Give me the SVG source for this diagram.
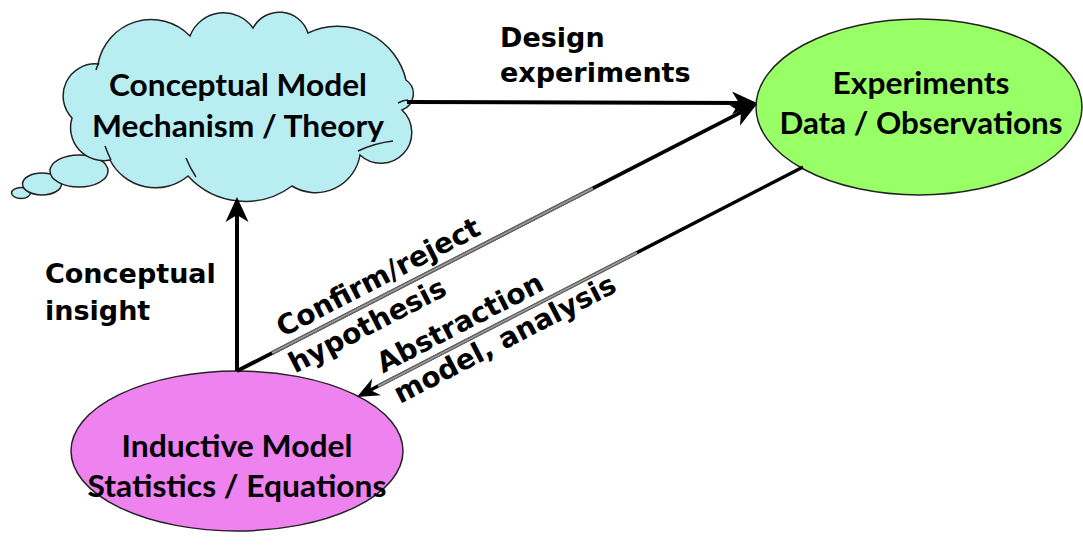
<svg xmlns="http://www.w3.org/2000/svg" width="1083" height="554" viewBox="0 0 1083 554">
  <style>
    .node-text { font-family: Lato, "Open Sans", "Liberation Sans", sans-serif; font-weight: bold; font-size: 30px; fill: #000; text-anchor: middle; }
    .label { font-family: "DejaVu Sans", Verdana, sans-serif; font-weight: bold; font-size: 27px; fill: #000; }
    .label-slant { font-size: 28px; }
    .outline { stroke: #222; stroke-width: 1.5; }
    .edge { fill: none; stroke: #000; stroke-linecap: butt; }
    .shade { fill: none; stroke: #666; }
    .shade-core { fill: none; stroke: #a8a8a8; stroke-width: 1.2; }
  </style>
  <defs>
    <marker id="head" markerUnits="userSpaceOnUse" viewBox="-28 -14 30 28" markerWidth="30" markerHeight="28" refX="-10" refY="0" orient="auto">
      <path d="M0,0 L-25,-11.5 L-18,0 L-25,11.5 Z" fill="#000"/>
    </marker>
    <marker id="head-small" markerUnits="userSpaceOnUse" viewBox="-28 -14 30 28" markerWidth="30" markerHeight="28" refX="-8" refY="0" orient="auto">
      <path d="M0,0 L-22,-9.5 L-15,0 L-22,9.5 Z" fill="#000"/>
    </marker>
  </defs>

  <rect width="1083" height="554" fill="#fff"/>

  <!-- thought cloud -->
  <g id="conceptual-model">
    <ellipse cx="21" cy="193" rx="9.5" ry="5.5" fill="#b8eef2" class="outline"/>
    <ellipse cx="42" cy="184" rx="19.5" ry="11" fill="#b8eef2" class="outline"/>
    <ellipse cx="79" cy="171" rx="29" ry="16" fill="#b8eef2" class="outline"/>
    <path fill="#b8eef2" class="outline" d="M72,118
      A32,32 0 0 1 98,64
      A54,54 0 0 1 190,36
      A36,36 0 0 1 253,28
      A30,30 0 0 1 308,33
      A70,70 0 0 1 406,80
      A17,17 0 0 1 402,110
      A30,30 0 0 1 360,155
      A45,45 0 0 1 292,186
      A78,78 0 0 1 188,176
      A51,51 0 0 1 110,160
      A33,33 0 0 1 72,118 Z"/>
    <g fill="none" class="outline">
      <path d="M105,146 Q108,154 111,160"/>
      <path d="M186,158 Q190,168 196,177"/>
      <path d="M358,151 Q375,143 393,141"/>
      <path d="M398,103 Q403,100 408,100"/>
      <path d="M96,70 Q97,66 99,63"/>
    </g>
    <text class="node-text" x="238" y="96" textLength="258" lengthAdjust="spacingAndGlyphs">Conceptual Model</text>
    <text class="node-text" x="238" y="137" textLength="292" lengthAdjust="spacingAndGlyphs">Mechanism / Theory</text>
  </g>

  <g id="experiments">
    <ellipse cx="919" cy="107" rx="163" ry="88" fill="#99ff66" class="outline"/>
    <text class="node-text" x="921" y="94" textLength="177" lengthAdjust="spacingAndGlyphs">Experiments</text>
    <text class="node-text" x="921" y="134" textLength="283" lengthAdjust="spacingAndGlyphs">Data / Observations</text>
  </g>

  <g id="inductive-model">
    <ellipse cx="237" cy="451" rx="166" ry="80" fill="#ee82ee" class="outline"/>
    <text class="node-text" x="237" y="457" textLength="231" lengthAdjust="spacingAndGlyphs">Inductive Model</text>
    <text class="node-text" x="237" y="497" textLength="299" lengthAdjust="spacingAndGlyphs">Statistics / Equations</text>
  </g>

  <!-- connectors -->
  <g id="connectors">
    <path class="edge" stroke-width="4" d="M407,102 L747,103" marker-end="url(#head)"/>
    <path class="edge" stroke-width="4" d="M237,371 L237,207" marker-end="url(#head)"/>
    <path class="edge" stroke-width="3.8" d="M237,371 L748.1,108.6" marker-end="url(#head)"/>
    <path class="edge" stroke-width="3.5" d="M803,167 L364.1,393.3" marker-end="url(#head-small)"/>
    <!-- shaded stretches beside the slanted labels -->
    <path class="shade" stroke-width="4" d="M272,353 L593,188.2"/>
    <path class="shade-core" d="M272,353 L593,188.2"/>
    <path class="shade" stroke-width="3.6" d="M378,386.2 L637,252.6"/>
    <path class="shade-core" d="M378,386.2 L637,252.6"/>
  </g>

  <!-- edge labels -->
  <g id="labels">
    <text class="label" x="500" y="47">Design</text>
    <text class="label" x="500" y="82">experiments</text>
    <text class="label" x="45" y="283">Conceptual</text>
    <text class="label" x="45" y="320">insight</text>
    <text class="label label-slant" transform="translate(282.7,337.4) rotate(-27.4)">Confirm/reject</text>
    <text class="label label-slant" transform="translate(295.1,373.6) rotate(-27.4)">hypothesis</text>
    <text class="label label-slant" transform="translate(383.1,373.5) rotate(-27.4)">Abstraction</text>
    <text class="label label-slant" transform="translate(400,404) rotate(-27.4)">model, analysis</text>
  </g>
</svg>
